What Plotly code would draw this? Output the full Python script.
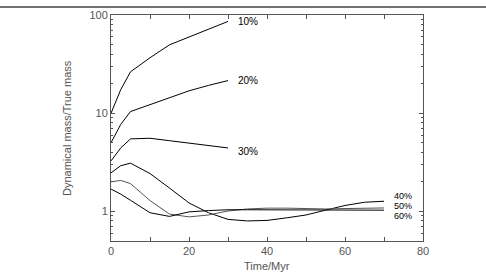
import math
import plotly.graph_objects as go

# ---- data ----
t_short = [0, 2.5, 5, 10, 15, 20, 25, 30]
m10 = [10.0, 17.4, 26.4, 36.7, 49.7, 60.0, 72.0, 86.0]
m20 = [5.0, 7.7, 10.4, 12.3, 14.5, 16.9, 19.2, 21.5]
m30 = [3.27, 4.43, 5.48, 5.56, 5.25, 4.96, 4.70, 4.43]

t_long = [0, 2.5, 5, 10, 15, 20, 25, 30, 35, 40, 45, 50, 55, 60, 65, 70]
m40 = [2.47, 2.92, 3.10, 2.43, 1.73, 1.22, 0.97, 0.83, 0.80, 0.81, 0.86, 0.92, 1.03, 1.15, 1.24, 1.27]
m50 = [2.00, 2.07, 1.92, 1.29, 0.94, 0.88, 0.92, 1.01, 1.06, 1.08, 1.08, 1.07, 1.06, 1.07, 1.08, 1.085]
m60 = [1.69, 1.50, 1.30, 0.97, 0.89, 0.99, 1.02, 1.04, 1.04, 1.04, 1.04, 1.04, 1.04, 1.03, 1.03, 1.03]

series = [
    ("10%", t_short, m10, "black"),
    ("20%", t_short, m20, "black"),
    ("30%", t_short, m30, "black"),
    ("40%", t_long, m40, "black"),
    ("50%", t_long, m50, "#555555"),
    ("60%", t_long, m60, "black"),
]

label_text = ["10%", "20%", "30%", "40%", "50%", "60%"]
label_x = [32.2, 32.2, 32.2, 72.3, 72.3, 72.3]
label_y = [86.0, 21.5, 4.11, 1.424, 1.128, 0.894]
label_size = [10, 10, 10, 9, 9, 9]

x_ticks = [0, 20, 40, 60, 80]
x_minor = [10, 30, 50, 70]
y_ticks = [1, 10, 100]
y_minor = [0.5, 0.6, 0.7, 0.8, 0.9, 2, 3, 4, 5, 6, 7, 8, 9,
           20, 30, 40, 50, 60, 70, 80, 90]

fig = go.Figure()
for name, xs, ys, col in series:
    fig.add_trace(go.Scatter(x=xs, y=ys, mode="lines", name=name,
                             line=dict(color=col, width=1), showlegend=False))

for txt, lx, ly, fs in zip(label_text, label_x, label_y, label_size):
    fig.add_annotation(x=lx, y=math.log10(ly), text=txt, showarrow=False, xanchor="left",
                       yanchor="middle", borderpad=0,
                       font=dict(size=fs, color="black", family="Liberation Sans"))

axis_col = "#555555"
fig.update_xaxes(range=[0, 80], tickvals=x_ticks, ticks="inside", ticklen=4,
                 tickcolor=axis_col, showline=True, linecolor=axis_col, linewidth=1,
                 mirror="ticks", showgrid=False, zeroline=False,
                 tickfont=dict(size=11, color=axis_col, family="Liberation Sans"),
                 minor=dict(tickvals=x_minor, ticks="inside", ticklen=4,
                            tickcolor=axis_col, showgrid=False))
fig.update_yaxes(type="log", range=[-0.301, 2.0], tickvals=y_ticks,
                 ticktext=[str(v) for v in y_ticks], ticks="inside", ticklen=4,
                 tickcolor=axis_col, showline=True, linecolor=axis_col, linewidth=1,
                 mirror="ticks", showgrid=False, zeroline=False,
                 tickfont=dict(size=11, color=axis_col, family="Liberation Sans"),
                 minor=dict(tickvals=y_minor, ticks="inside", ticklen=2,
                            tickcolor=axis_col, showgrid=False))

# axis titles
fig.add_annotation(xref="paper", yref="paper", x=0.5, y=0, yshift=-25,
                   text="Time/Myr", showarrow=False, xanchor="center", yanchor="middle",
                   font=dict(size=11, color=axis_col, family="Liberation Sans"))
fig.add_annotation(xref="paper", yref="paper", x=0, y=0.5, xshift=-44,
                   text="Dynamical mass/True mass", showarrow=False, textangle=-90,
                   xanchor="center", yanchor="middle",
                   font=dict(size=11, color=axis_col, family="Liberation Sans"))

# page top rule
fig.add_shape(type="line", xref="paper", yref="paper", x0=-0.36, x1=1.21,
              y0=1.035, y1=1.035, line=dict(color="#444444", width=1.5))

fig.update_layout(width=486, height=272, margin=dict(l=111, r=63, t=9, b=31),
                  paper_bgcolor="white", plot_bgcolor="white")

fig.write_html("out.html")
